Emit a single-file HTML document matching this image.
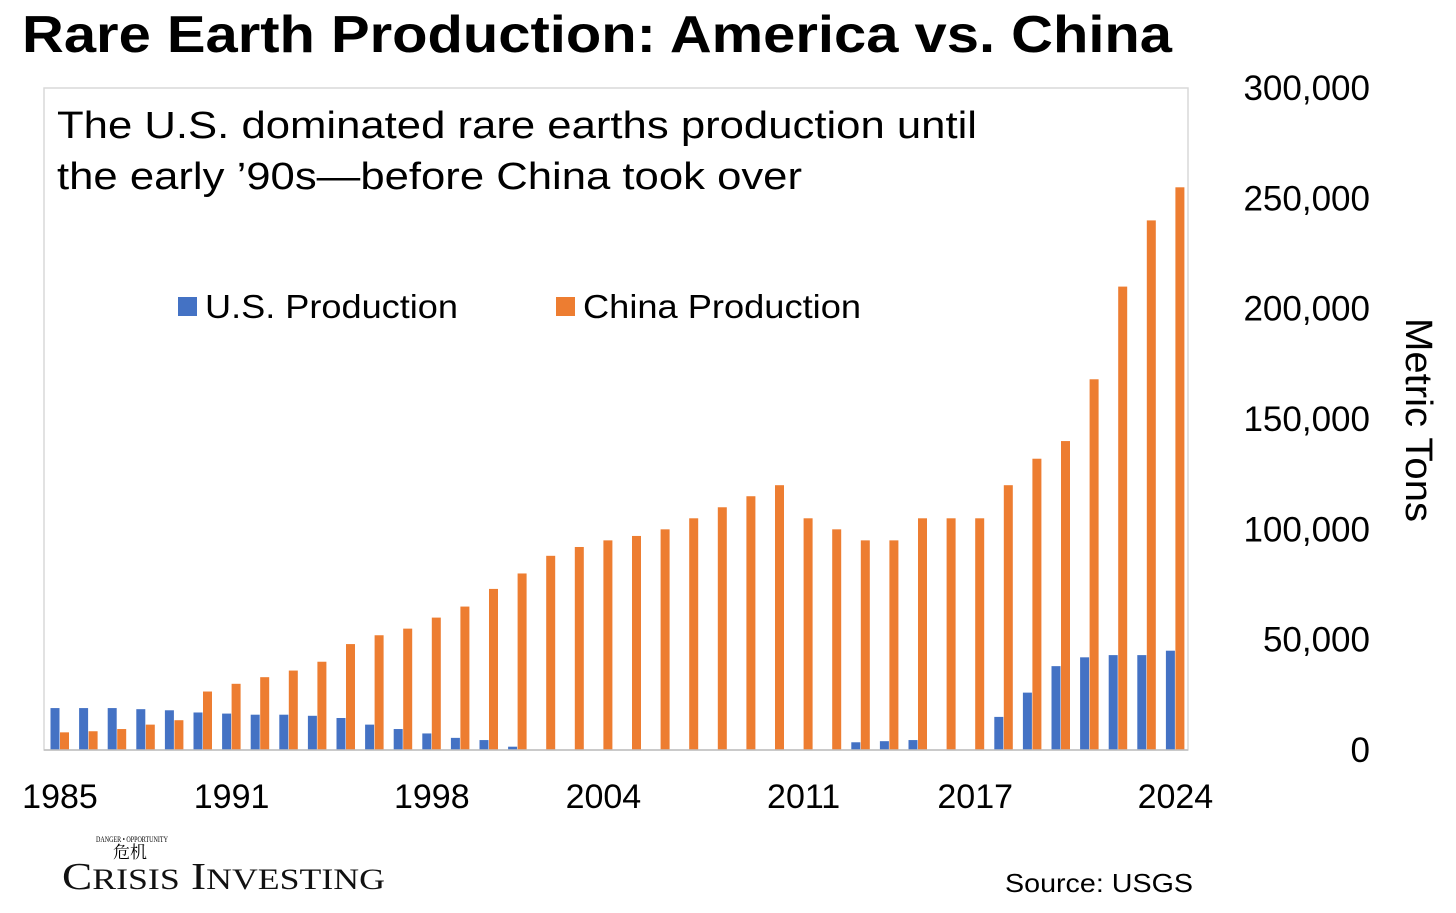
<!DOCTYPE html>
<html><head><meta charset="utf-8"><style>
body{margin:0;width:1456px;height:908px;background:#fff;overflow:hidden;font-family:"Liberation Sans",Arial,sans-serif}
.sans{font-family:"Liberation Sans",Arial,sans-serif}
.serif{font-family:"Liberation Serif","Noto Serif CJK SC",serif}
</style></head><body>
<svg id="chart" class="sans" width="1456" height="908" xmlns="http://www.w3.org/2000/svg">
<text x="22" y="52" font-size="52" font-weight="bold" fill="#000" textLength="1150" lengthAdjust="spacingAndGlyphs">Rare Earth Production: America vs. China</text>
<rect x="44" y="88" width="1144" height="662" fill="none" stroke="#d9d9d9" stroke-width="1.5"/>
<text font-size="38" fill="#000"><tspan x="57" y="138" textLength="920" lengthAdjust="spacingAndGlyphs">The U.S. dominated rare earths production until</tspan><tspan x="57" y="189" textLength="745" lengthAdjust="spacingAndGlyphs">the early ’90s—before China took over</tspan></text>
<g>
<rect x="178" y="297" width="19" height="19" fill="#4472c4"/>
<text x="205" y="318" font-size="33" textLength="253" lengthAdjust="spacingAndGlyphs">U.S. Production</text>
<rect x="556" y="297" width="19" height="19" fill="#ed7d31"/>
<text x="583" y="318" font-size="33" textLength="278" lengthAdjust="spacingAndGlyphs">China Production</text>
</g>
<g id="bars"></g>
<g id="yaxis"></g>
<g id="xaxis"></g>
<text transform="translate(1406,420) rotate(90)" text-anchor="middle" font-size="38" textLength="204" lengthAdjust="spacingAndGlyphs">Metric Tons</text>
<g class="serif">
<text x="132" y="842" font-size="8" text-anchor="middle" textLength="72" lengthAdjust="spacingAndGlyphs">DANGER • OPPORTUNITY</text>
<text x="130" y="858" font-size="17" text-anchor="middle">危机</text>
<text x="62" y="889" font-size="38" fill="#111" textLength="323" lengthAdjust="spacingAndGlyphs">C<tspan font-size="30">RISIS</tspan> I<tspan font-size="30">NVESTING</tspan></text>
</g>
<text x="1005" y="892" font-size="26" textLength="188" lengthAdjust="spacingAndGlyphs">Source: USGS</text>
</svg>
<script>
const years=[];for(let y=1985;y<=2024;y++)years.push(y);
const usValues=[19000,19000,19000,18500,18000,17000,16500,16000,16000,15500,14500,11500,9500,7500,5500,4500,1500,0,0,0,0,0,0,0,0,0,0,0,3500,4000,4500,0,0,15000,26000,38000,42000,43000,43000,45000];
const chinaValues=[8000,8500,9500,11500,13500,26500,30000,33000,36000,40000,48000,52000,55000,60000,65000,73000,80000,88000,92000,95000,97000,100000,105000,110000,115000,120000,105000,100000,95000,95000,105000,105000,105000,120000,132000,140000,168000,210000,240000,255000];
const yTicks=[0,50000,100000,150000,200000,250000,300000];
const xLabels=[1985,1991,1998,2004,2011,2017,2024];
const NS="http://www.w3.org/2000/svg";
const x0=45.7,step=28.6,yBase=750,yTop=88,yMax=300000;
const xc=i=>x0+step*i+step/2;
const yv=v=>yBase-(v/yMax)*(yBase-yTop);
const bars=document.getElementById('bars');
years.forEach((yr,i)=>{
 [[usValues[i],'#4472c4',-9.5,'bar-us-'+yr],[chinaValues[i],'#ed7d31',0,'bar-china-'+yr]].forEach(([v,c,off,n])=>{
  if(v<=0)return;
  const r=document.createElementNS(NS,'rect');
  r.setAttribute('x',xc(i)+off);r.setAttribute('width',9);
  r.setAttribute('y',yv(v));r.setAttribute('height',yBase-yv(v));r.setAttribute('fill',c);
  
  
  bars.appendChild(r);
 });
});
const base=document.createElementNS(NS,'line');
base.setAttribute('x1',44);base.setAttribute('x2',1188);base.setAttribute('y1',yBase);base.setAttribute('y2',yBase);base.setAttribute('stroke','#bfbfbf');base.setAttribute('stroke-width',1.5);


bars.appendChild(base);
const ya=document.getElementById('yaxis');
yTicks.forEach(v=>{
 const t=document.createElementNS(NS,'text');
 t.setAttribute('x',1370);t.setAttribute('y',yv(v)+12);t.setAttribute('text-anchor','end');t.setAttribute('font-size',35);
 t.textContent=v.toLocaleString('en-US');
 
 
 ya.appendChild(t);
});
const xa=document.getElementById('xaxis');
xLabels.forEach(yr=>{
 const t=document.createElementNS(NS,'text');
 t.setAttribute('x',xc(yr-1985));t.setAttribute('y',808);t.setAttribute('text-anchor','middle');t.setAttribute('font-size',34);
 t.textContent=yr;
 
 
 xa.appendChild(t);
});
</script>
</body></html>
